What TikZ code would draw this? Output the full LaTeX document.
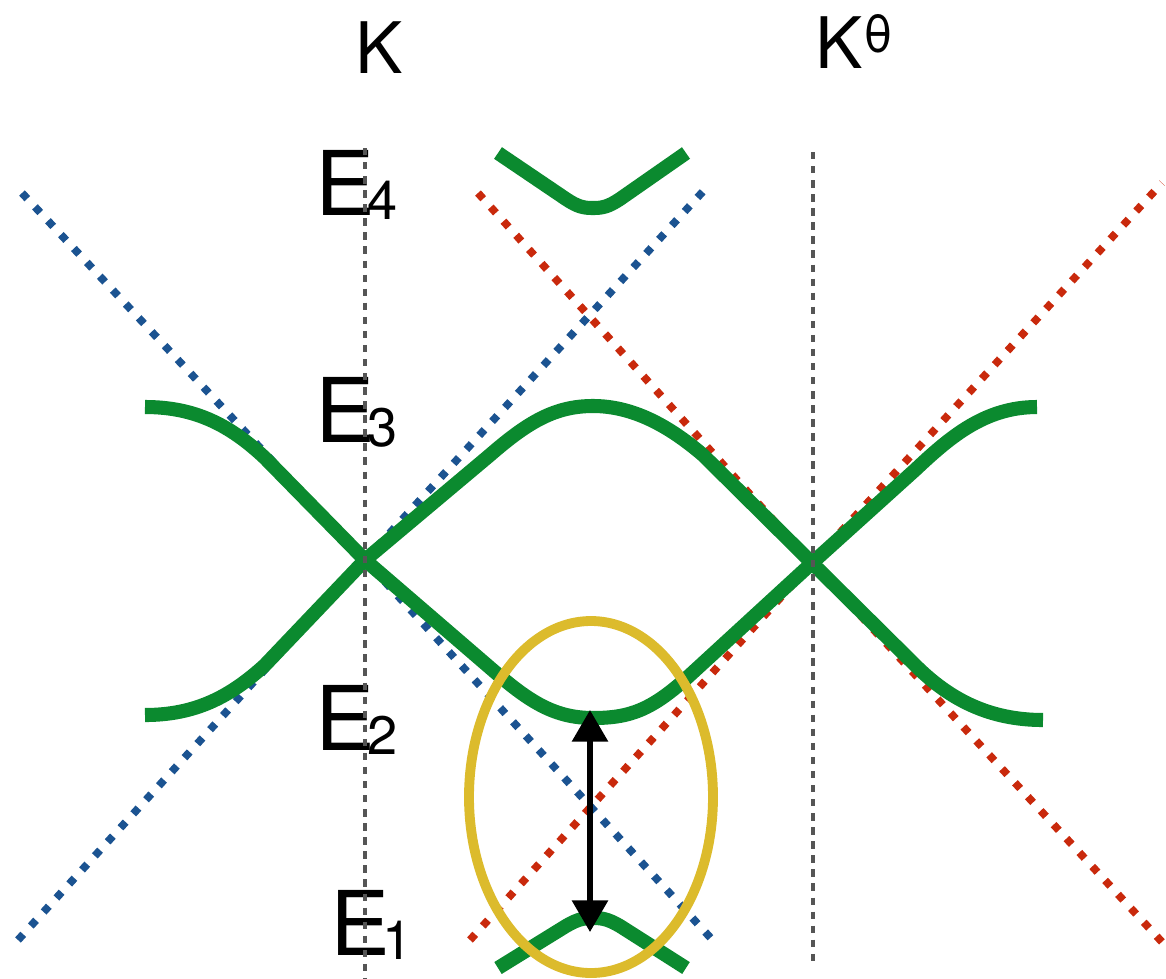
\documentclass[tikz,border=0pt]{standalone}
\usepackage{fontspec}
\setmainfont{TeX Gyre Heros}
\usetikzlibrary{arrows.meta}
\definecolor{bandgreen}{HTML}{0B8A2F}
\definecolor{coneblue}{HTML}{1B5391}
\definecolor{conered}{HTML}{C9290C}
\definecolor{ringgold}{HTML}{DCBB2C}
\definecolor{gridgrey}{HTML}{555555}
\tikzset{
  bandline/.style={draw=bandgreen, line width=4pt, line join=round},
  coneline/.style={draw=#1, line width=2.2pt, dash pattern=on 2.2pt off 3.2pt},
  coneline/.default=coneblue,
  kline/.style={draw=gridgrey, line width=1.2pt, dash pattern=on 2.1pt off 1.9pt},
  gapring/.style={draw=ringgold, line width=2.8pt},
  gaparrow/.style={{Triangle[length=9pt,width=10pt]}-{Triangle[length=9pt,width=10pt]},
    line width=1.6pt, black},
  elabel/.style={anchor=base west, inner sep=0pt, font=\fontsize{25.4}{30}\selectfont},
  klabel/.style={anchor=base west, inner sep=0pt, font=\fontsize{20.2}{24}\selectfont},
}
\newcommand{\esub}[1]{\kern-2.2pt\raisebox{-1.4pt}{\fontsize{15.4}{18}\selectfont #1}}

\begin{document}
\begin{tikzpicture}[x=0.01cm, y=-0.01cm]
\useasboundingbox (0,0) rectangle (1166,978);
% Dirac points and the gap
\coordinate (dirac-k) at (365,560);
\coordinate (dirac-kt) at (812,563);
\coordinate (gap-top) at (590,710);
\coordinate (gap-bot) at (590,932);
\coordinate (gap-centre) at (591,797);
% bare cones
\draw[coneline] (22,193) -- (dirac-k) -- (718,946);
\draw[coneline] (18,940) -- (dirac-k) -- (708,186);
\draw[coneline=conered] (478,193) -- (dirac-kt) -- (1162,942);
\draw[coneline=conered] (470,940) -- (dirac-kt) -- (1162,183);
% hybridised bands
\draw[bandline] (145,407) .. controls (195,407) and (230,425) .. (265,458) -- (dirac-k)
  -- (495,672) .. controls (530,702) and (555,718) .. (593,718)
  .. controls (630,718) and (652,710) .. (690,675) -- (dirac-kt)
  -- (915,470) .. controls (950,437) and (985,407) .. (1037,407);
\draw[bandline] (145,715) .. controls (195,715) and (230,697) .. (265,665) -- (dirac-k)
  -- (490,455) .. controls (528,422) and (555,406) .. (593,406)
  .. controls (632,406) and (668,425) .. (703,455) -- (dirac-kt)
  -- (915,665) .. controls (950,700) and (990,720) .. (1043,720);
\draw[bandline] (498,153) -- (566,199) .. controls (578,207) and (584,208) .. (593,208)
  .. controls (602,208) and (608,207) .. (620,199) -- (686,153);
\draw[bandline] (498,968) -- (566,926) .. controls (578,919) and (584,918) .. (593,918)
  .. controls (602,918) and (608,919) .. (620,926) -- (686,968);
% gap
\draw[gapring] (gap-centre) ellipse [x radius=122, y radius=176];
\draw[gaparrow] (gap-top) -- (gap-bot);
% labels
\node[klabel] (lbl-k) at (355,73) {K};
\node[klabel] (lbl-kt) at (815,68) {K\raisebox{4.5pt}{\fontsize{14.6}{17}\selectfont θ}};
\node[elabel] (lbl-e4) at (315,215) {E\esub{4}};
\node[elabel] (lbl-e3) at (315,442) {E\esub{3}};
\node[elabel] (lbl-e2) at (315,750) {E\esub{2}};
\node[elabel] (lbl-e1) at (330,955) {E\esub{1}};
% valley lines
\draw[kline] (dirac-k |- 0,148) -- (dirac-k |- 0,978);
\draw[kline] (813,152) -- (813,965);
\end{tikzpicture}
\end{document}
